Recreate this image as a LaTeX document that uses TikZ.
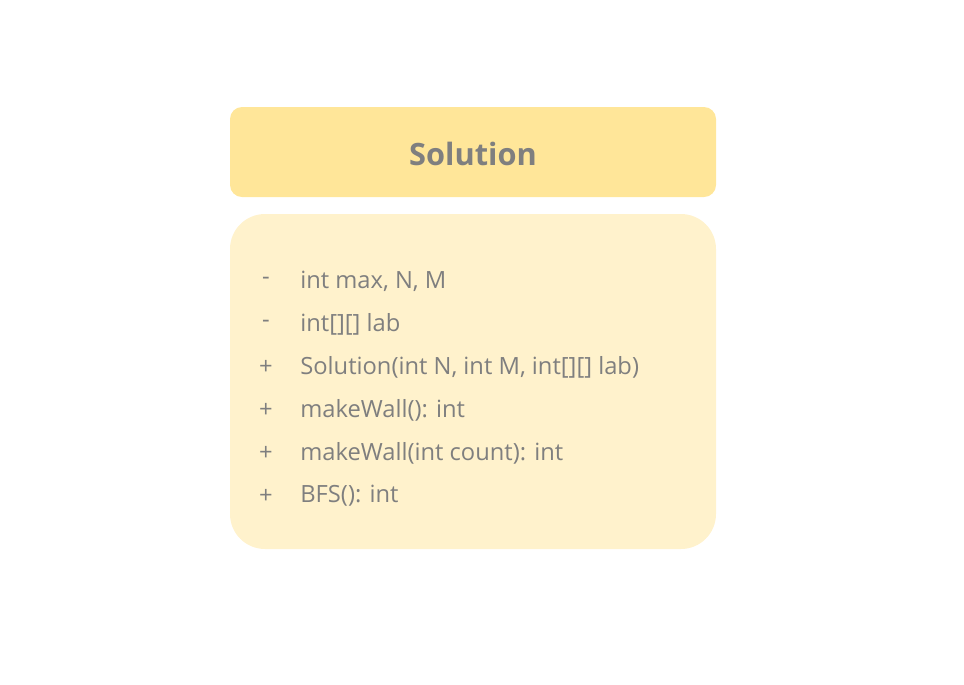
\documentclass[tikz,border=0pt]{standalone}
\usepackage{fontspec}
\setmainfont{Open Sans}
\usetikzlibrary{positioning}
\definecolor{headfill}{HTML}{FFE699}
\definecolor{bodyfill}{HTML}{FFF2CC}
\definecolor{textgray}{HTML}{7F7F7F}
\tikzset{
  class head/.style={fill=headfill,draw=none,rounded corners=0.24cm},
  class body/.style={fill=bodyfill,draw=none,rounded corners=0.7cm},
  sign/.style={text=textgray,font=\fontsize{13.5}{16}\selectfont,inner sep=0pt},
  member/.style={text=textgray,font=\fontsize{13.5}{16}\selectfont,anchor=west,inner sep=0pt},
}

\begin{document}
\begin{tikzpicture}[x=0.02cm,y=-0.02cm]
    \useasboundingbox (0,0) rectangle (964,684);

    % class name box
    \path[class head] (230,107) rectangle (716,197);
    \node[text=textgray,font=\bfseries\fontsize{17.5}{21}\selectfont] (title) at (473,154) {Solution};

    % members box
    \path[class body] (230,214) rectangle (716,549);

    \node[sign] (s1) at (266,281) {-};
    \node[sign] (s2) at (266,324) {-};
    \node[sign] (s3) at (266,367) {+};
    \node[sign] (s4) at (266,410) {+};
    \node[sign] (s5) at (266,453) {+};
    \node[sign] (s6) at (266,496) {+};

    \node[member] (m1) at (300,281) {int max, N, M};
    \node[member] (m2) at (300,324) {int[][] lab};
    \node[member] (m3) at (300,367) {Solution(int N, int M, int[][] lab)};
    \node[member] (m4) at (300,410) {makeWall(): int};
    \node[member] (m5) at (300,453) {makeWall(int count): int};
    \node[member] (m6) at (300,496) {BFS(): int};
\end{tikzpicture}
\end{document}
